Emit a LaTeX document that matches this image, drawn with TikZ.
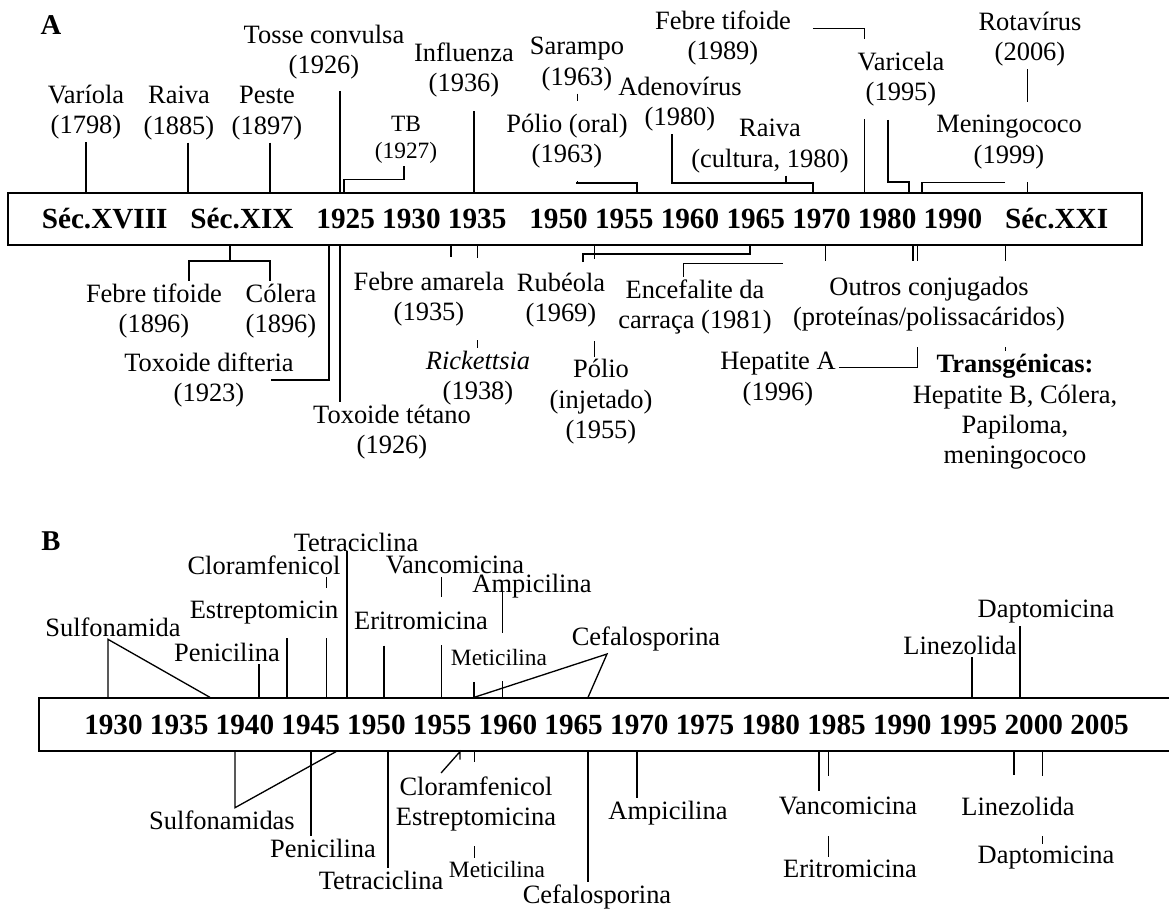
\documentclass[tikz,border=0pt]{standalone}
\usepackage{fontspec}
\setmainfont{Liberation Serif}
\usetikzlibrary{positioning,calc,backgrounds}

\begin{document}
\begin{tikzpicture}[x=0.4535pt, y=-0.4535pt, line width=0.6pt,
    every node/.style={align=center, inner sep=1pt, font=\fontsize{12}{13.8}\selectfont},
    yearbar/.style={draw, font=\fontsize{13.25}{16}\selectfont\bfseries},
    mask/.style={fill=white},
    minor/.style={font=\fontsize{10.6}{12.2}\selectfont},
    panel/.style={font=\fontsize{13}{15}\selectfont\bfseries}]

\useasboundingbox (0,0) rectangle (1169,909);

% the two bars
\node[yearbar, minimum width=514.3pt, minimum height=23.6pt] (boxA) at (575,219) {Séc.XVIII\hspace{10.4pt}Séc.XIX\hspace{10.4pt}1925 1930 1935\hspace{10.4pt}1950 1955 1960 1965 1970 1980 1990\hspace{10.4pt}Séc.XXI};
\node[yearbar, minimum width=514.7pt, minimum height=24pt] (boxB) at (606.5,724.5) {1930 1935 1940 1945 1950 1955 1960 1965 1970 1975 1980 1985 1990 1995 2000 2005};

% vaccines, above
\node[panel] (lettA) at (51,25) {A};
\node (variola) at (86,112) {Varíola\\(1798)};
\node (raiva) at (179,113) {Raiva\\(1885)};
\node (peste) at (267,113) {Peste\\(1897)};
\node[inner ysep=5pt] (tosse) at (324,52) {Tosse convulsa\\(1926)};
\node[minor] (tb) at (406,140) {TB\\(1927)};
\node[inner ysep=6pt] (influ) at (464,70) {Influenza\\(1936)};
\node (saramp) at (577,64) {Sarampo\\(1963)};
\node[mask, inner ysep=5.9pt] (poloral) at (567,141) {Pólio (oral)\\(1963)};
\node (adeno) at (680,104) {Adenovírus\\(1980)};
\node (raivac) at (770,146) {Raiva\\(cultura, 1980)};
\node (tif89) at (723,38) {Febre tifoide\\(1989)};
\node[mask, inner ysep=5.9pt] (varic) at (901,79) {Varicela\\(1995)};
\node (rota) at (1030,39) {Rotavírus\\(2006)};
\node[mask, inner ysep=5.9pt] (mening) at (1009,142) {Meningococo\\(1999)};

% vaccines, below
\node (tif96) at (154,311) {Febre tifoide\\(1896)};
\node (colera) at (281,311) {Cólera\\(1896)};
\node (tdif) at (209,380) {Toxoide difteria\\(1923)};
\node (ttet) at (392,432) {Toxoide tétano\\(1926)};
\node[mask, inner ysep=6.3pt] (famar) at (429,299) {Febre amarela\\(1935)};
\node (rick) at (478,378) {\textit{Rickettsia}\\(1938)};
\node[mask, inner ysep=6.3pt] (rubeola) at (561,300) {Rubéola\\(1969)};
\node (polinj) at (601,402) {Pólio\\(injetado)\\(1955)};
\node (encef) at (695,307) {Encefalite da\\carraça (1981)};
\node[mask, inner xsep=4.5pt, inner ysep=7pt] (outros) at (929,304) {Outros conjugados\\(proteínas/polissacáridos)};
\node (hepa) at (778,379) {Hepatite A\\(1996)};
\node (transg) at (1015,412) {\textbf{Transgénicas:}\\Hepatite B, Cólera,\\Papiloma,\\meningococo};

% antibiotics, above
\node[panel] (lettB) at (51,541) {B};
\node (sulfa) at (113,627) {Sulfonamida};
\node (penic) at (227,652) {Penicilina};
\node (cloro) at (264,565) {Cloramfenicol};
\node[mask, inner ysep=5.9pt] (estrep) at (264,613) {Estreptomicin};
\node (tetra) at (356,542) {Tetraciclina};
\node (vanco) at (455,565) {Vancomicina};
\node[mask, inner ysep=6.8pt] (eritro) at (421,621) {Eritromicina};
\node (ampi) at (532,586) {Ampicilina};
\node[mask, minor, inner ysep=7.2pt] (meti) at (499,657) {Meticilina};
\node (cefa) at (646,639) {Cefalosporina};
\node (linez) at (960,645) {Linezolida};
\node (dapto) at (1046,612) {Daptomicina};

% antibiotics, below
\node (sulfas) at (222,820) {Sulfonamidas};
\node (penicb) at (323,848) {Penicilina};
\node (tetrab) at (381,880) {Tetraciclina};
\node[mask, inner ysep=6.8pt] (cloest) at (476,804) {Cloramfenicol\\Estreptomicina};
\node[minor] (metib) at (497,869) {Meticilina};
\node (cefab) at (597,897) {Cefalosporina};
\node (ampib) at (668,813) {Ampicilina};
\node[mask, inner ysep=9.5pt] (vancob) at (848,806) {Vancomicina};
\node (eritrob) at (850,869) {Eritromicina};
\node[mask, inner ysep=9.5pt] (linezb) at (1018,806) {Linezolida};
\node (daptob) at (1046,858) {Daptomicina};

% ticks to bar A
\draw (variola.south) -- (variola.south |- boxA.north);
\draw (raiva.south -| 188,0) -- (boxA.north -| 188,0);
\draw (peste.south -| 270,0) -- (boxA.north -| 270,0);
\draw (tosse.south -| 340,0) -- (boxA.north -| 340,0);
\draw (tb.south -| 404,0) -- ++(0,13) -| (boxA.north -| 344,0);
\draw (influ.south -| 474,0) -- (boxA.north -| 474,0);
\draw (poloral.south -| 577,0) |- (637,183) -- (boxA.north -| 637,0);
\draw (adeno.south -| 672,0) |- (813,183) -- (boxA.north -| 813,0);
\draw (raivac.south -| 786,0) |- (813,183);
\draw (varic.south -| 888,0) |- (909,182) -- (boxA.north -| 909,0);
\draw (mening.south -| 1005,0) -| (boxA.north -| 922,0);

\draw (boxA.south -| 230,0) -- (230,261);
\draw (tif96.north -| 189,0) |- (270,261) -- (colera.north -| 270,0);
\draw (boxA.south -| 329,0) |- ($(tdif.east)+(-26,0)$);
\draw (boxA.south -| 340,0) -- (ttet.north -| 340,0);
\draw (boxA.south -| 451,0) -- (famar.north -| 451,0);
\draw ($(rubeola.north)+(22,4)$) |- (750,254) -- (boxA.south -| 750,0);
\draw (boxA.south -| 913,0) -- (outros.north -| 913,0);

% ticks to bar B
\draw (boxB.north -| 108,0) -- (sulfa.south -| 108,0) -- (boxB.north -| 210,0);
\draw (penic.south -| 259,0) -- (boxB.north -| 259,0);
\draw (estrep.south -| 287,0) -- (boxB.north -| 287,0);
\draw (tetra.base -| 347,0) -- (boxB.north -| 347,0);
\draw (eritro.south -| 384,0) -- (boxB.north -| 384,0);
\draw (meti.south -| 474,0) -- (boxB.north -| 474,0);
\draw (boxB.north -| 474,0) -- (cefa.south -| 607,0) -- (boxB.north -| 588,0);
\draw (linez.south -| 972,0) -- (boxB.north -| 972,0);
\draw (dapto.south -| 1020,0) -- (boxB.north -| 1020,0);

\draw (boxB.south -| 235,0) -- (sulfas.north -| 235,0) -- (boxB.south -| 336,0);
\draw (boxB.south -| 311,0) -- (penicb.north -| 311,0);
\draw (boxB.south -| 388,0) -- (tetrab.north -| 388,0);
\draw ($(cloest.north west)+(48,12)$) -- (boxB.south -| 460,0) -- ++(0,8);
\draw (boxB.south -| 588,0) -- (cefab.north -| 588,0);
\draw (boxB.south -| 637,0) -- (ampib.north -| 637,0);
\draw (boxB.south -| 819,0) -- ($(vancob.north -| 819,0)+(0,16)$);
\draw (boxB.south -| 1014,0) -- (linezb.north -| 1014,0);

% lines running behind other labels
\begin{scope}[on background layer]
\draw (saramp.south) -- (poloral.south -| 577,0);
\draw ($(tif89.east)+(19,-10)$) -| (boxA.north -| 864,0);
\draw (rota.south -| 1027,0) -- (boxA.north -| 1027,0);
\draw (boxA.south -| 477,0) -- (rick.north -| 477,0);
\draw (boxA.south -| 594,0) -- (polinj.north -| 594,0);
\draw (encef.north -| 683,0) |- (825,263) -- (boxA.south -| 825,0);
\draw (boxA.south -| 917,0) |- ($(hepa.east)+(0,-12)$);
\draw (boxA.south -| 1005,0) -- (transg.north -| 1005,0);
\draw (cloro.south -| 326,0) -- (boxB.north -| 326,0);
\draw (vanco.south -| 441,0) -- (boxB.north -| 441,0);
\draw (ampi.base -| 502,0) -- (boxB.north -| 502,0);
\draw (boxB.south -| 474,0) -- (metib.north -| 474,0);
\draw (boxB.south -| 828,0) -- (eritrob.north -| 828,0);
\draw (boxB.south -| 1042,0) -- (daptob.north -| 1042,0);
\end{scope}
\end{tikzpicture}
\end{document}
